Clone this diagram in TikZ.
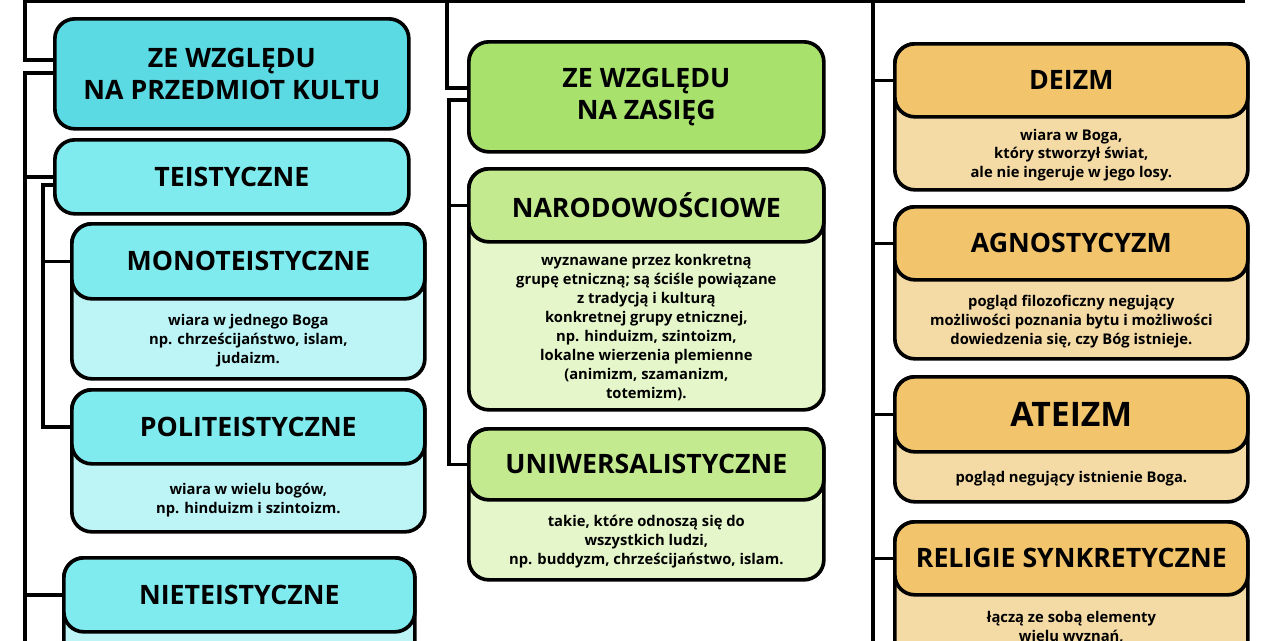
\documentclass[tikz,border=0pt]{standalone}
\usepackage{fontspec}
\setmainfont{Open Sans}
\usetikzlibrary{positioning,calc}
\definecolor{kultA}{HTML}{5CDAE3}
\definecolor{kultH}{HTML}{80EBEE}
\definecolor{kultB}{HTML}{BDF4F6}
\definecolor{zasA}{HTML}{A9E16D}
\definecolor{zasH}{HTML}{C3EA8E}
\definecolor{zasB}{HTML}{E6F6CB}
\definecolor{inH}{HTML}{F2C56C}
\definecolor{inB}{HTML}{F4DAA5}
\def\px{0.025cm}
\tikzset{
  box/.style={draw, line width=2.6pt, rounded corners=20*\px, inner sep=0pt, anchor=north west},
  ttl/.style={font=\bfseries\fontsize{19}{23}\selectfont, align=center},
  txt/.style={font=\bfseries\fontsize{10.5}{13.5}\selectfont, align=center},
  conn/.style={line width=2.6pt},
}
% #1 name, #2 x, #3 top, #4 header bottom, #5 bottom, #6 width, #7 header colour, #8 body colour, #9 title
\newcommand\catbox[9]{%
  \node[box, fill=#8, minimum width=#6*\px, minimum height=(#5-#3)*\px] (#1B) at (#2,#3) {};
  \node[box, fill=#7, minimum width=#6*\px, minimum height=(#4-#3)*\px] (#1) at (#2,#3) {};
  \node[ttl] at (#1.center) {#9};
  \coordinate (#1T) at ($(#1.south)!0.5!(#1B.south)$);
}
\begin{document}
\begin{tikzpicture}[x=\px, y=-\px]
\useasboundingbox (0,0) rectangle (1280,640);
\clip (0,0) rectangle (1280,640);
% trunks
\coordinate (lt) at (25,73);
\coordinate (mt) at (449,100);
\coordinate (tt) at (43,185);
\draw[conn, line width=4pt] (25,0) -- (1245,0);
\draw[conn] (25,0) -- (25,60) -- (53,60);
\draw[conn] (447,0) -- (447,88) -- (467,88);
\draw[conn] (873,0) -- (873,645);

% left column
\node[box, fill=kultA, minimum width=354*\px, minimum height=110*\px] (kult) at (53,17) {};
\node[ttl] at (kult.center) {ZE WZGLĘDU\\NA PRZEDMIOT KULTU};
\node[box, fill=kultH, minimum width=354*\px, minimum height=74*\px] (teis) at (53,138) {};
\node[ttl] at (teis.center) {TEISTYCZNE};
\catbox{mono}{70}{222}{297}{377}{353}{kultH}{kultB}{MONOTEISTYCZNE}
\node[txt] at (monoT) {wiara w jednego Boga\\np. chrześcijaństwo, islam,\\judaizm.};
\catbox{poli}{70}{388}{462}{530}{353}{kultH}{kultB}{POLITEISTYCZNE}
\node[txt] at (poliT) {wiara w wielu bogów,\\np. hinduizm i szintoizm.};
\catbox{niet}{62}{556}{630}{720}{351}{kultH}{kultB}{NIETEISTYCZNE}
\node[txt, anchor=north] at ($(niet.south)+(0,4)$) {takie, w których przedmiotem};

\draw[conn] (kult.west |- lt) -- (lt) -- (25,645);
\draw[conn] (lt |- teis.west) -- (teis.west);
\draw[conn] (lt |- niet.west) -- (niet.west);
\draw[conn] (teis.west |- tt) -- (tt) |- (poli.west);
\draw[conn] (tt |- mono.west) -- (mono.west);

% middle column
\node[box, fill=zasA, minimum width=355*\px, minimum height=110*\px] (zas) at (467,40) {};
\node[ttl] at (zas.center) {ZE WZGLĘDU\\NA ZASIĘG};
\catbox{naro}{467}{167}{240}{408}{355}{zasH}{zasB}{NARODOWOŚCIOWE}
\node[txt] at (naroT) {wyznawane przez konkretną\\grupę etniczną; są ściśle powiązane\\z tradycją i kulturą\\konkretnej grupy etnicznej,\\np. hinduizm, szintoizm,\\lokalne wierzenia plemienne\\(animizm, szamanizm,\\totemizm).};
\catbox{uniw}{467}{427}{498}{578}{355}{zasH}{zasB}{UNIWERSALISTYCZNE}
\node[txt] at (uniwT) {takie, które odnoszą się do\\wszystkich ludzi,\\np. buddyzm, chrześcijaństwo, islam.};
\draw[conn] (zas.west |- mt) -- (mt) |- (uniw.west);
\draw[conn] (mt |- naro.west) -- (naro.west);

% right column
\catbox{deiz}{893}{42}{115}{188}{353}{inH}{inB}{DEIZM}
\node[txt] at (deizT) {wiara w Boga,\\który stworzył świat,\\ale nie ingeruje w jego losy.};
\catbox{agno}{893}{205}{278}{357}{353}{inH}{inB}{AGNOSTYCYZM}
\node[txt] at (agnoT) {pogląd filozoficzny negujący\\możliwości poznania bytu i możliwości\\dowiedzenia się, czy Bóg istnieje.};
\catbox{ateu}{893}{375}{450}{500}{353}{inH}{inB}{\fontsize{24}{28}\selectfont ATEIZM}
\node[txt] at (ateuT) {pogląd negujący istnienie Boga.};
\catbox{synk}{893}{520}{593}{700}{353}{inH}{inB}{RELIGIE SYNKRETYCZNE}
\node[txt, anchor=north] at ($(synk.south)+(0,10)$) {łączą ze sobą elementy\\wielu wyznań,};
\foreach \n in {deiz,agno,ateu,synk}
  \draw[conn] (873,0 |- \n.west) -- (\n.west);
\end{tikzpicture}
\end{document}
